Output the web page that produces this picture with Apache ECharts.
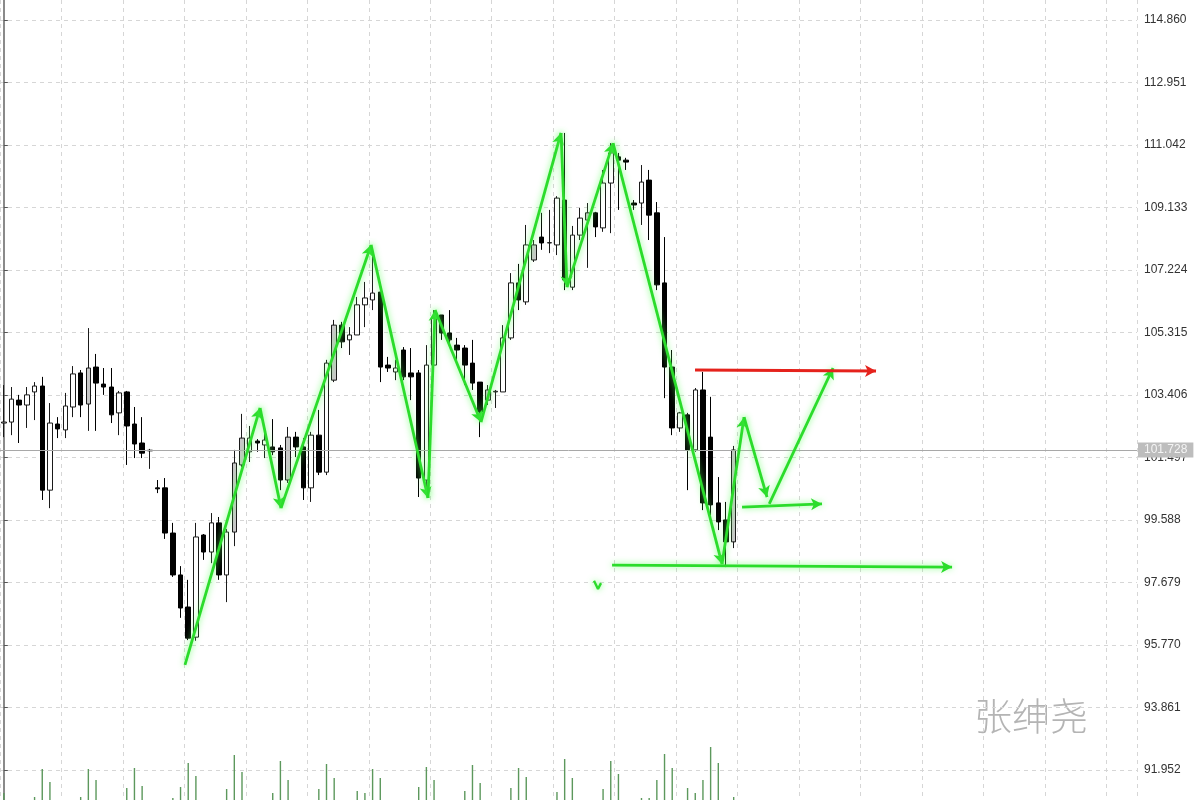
<!DOCTYPE html>
<html><head><meta charset="utf-8">
<script src="https://cdn.jsdelivr.net/npm/echarts@6/dist/echarts.min.js"></script>
<style>html,body{margin:0;padding:0;background:#fff}#c{width:1200px;height:800px}</style>
</head><body><div id="c"></div>
<script>
// price tick labels on the right axis
const priceTicks = [91.952, 93.861, 95.770, 97.679, 99.588, 101.497, 103.406, 105.315, 107.224, 109.133, 111.042, 112.951, 114.860];
const currentPrice = 101.728;
// candles: [open, close, low, high]
const ohlc = [
[102.55,102.58,102.12,103.71],[102.58,103.28,102.18,103.65],[103.25,103.10,101.94,103.41],[103.10,103.41,102.40,103.65],
[103.50,103.68,102.64,103.80],[103.68,100.50,100.20,103.96],[100.50,102.55,99.95,103.16],[102.52,102.37,102.09,102.73],
[102.34,103.07,102.09,103.47],[103.04,104.05,102.73,104.29],[104.08,103.10,102.73,104.17],[103.13,104.23,102.31,105.45],
[104.26,103.77,102.31,104.66],[103.74,103.65,103.41,104.23],[103.65,102.80,102.55,104.23],[102.86,103.47,102.18,103.53],
[103.50,102.46,101.27,103.53],[102.52,101.91,101.48,103.04],[101.94,101.63,101.48,102.73],[101.70,101.72,101.15,101.76],
[100.57,100.54,100.41,100.81],[100.57,99.19,99.01,100.87],[99.19,97.91,97.85,99.50],[97.91,96.90,96.60,98.18],
[96.93,95.98,95.92,97.76],[96.01,99.07,95.90,99.50],[99.13,98.61,98.37,99.16],[98.61,99.50,98.27,99.80],
[99.50,97.91,97.76,99.68],[97.91,99.22,97.08,99.31],[99.22,101.33,98.79,101.73],[101.27,102.09,101.21,102.83],
[101.67,102.09,101.36,102.46],[102.00,101.94,101.67,102.06],[101.88,102.03,101.48,102.34],[101.82,101.67,101.57,102.67],
[101.79,100.81,100.50,101.88],[100.81,102.12,100.72,102.43],[102.12,101.82,101.51,102.28],[101.82,100.57,100.20,102.09],
[100.57,102.18,100.14,102.28],[102.18,101.05,100.96,102.95],[101.05,104.38,100.96,104.48],[103.86,105.54,103.80,105.70],
[105.54,105.03,104.84,105.64],[105.09,105.24,104.63,105.48],[105.24,106.16,105.24,106.40],[106.16,106.37,105.48,106.86],
[106.31,106.52,106.00,107.90],[106.55,104.26,103.80,106.55],[104.32,104.23,104.11,104.57],[104.11,104.23,103.86,104.48],
[104.78,103.96,103.86,104.87],[104.08,103.96,103.25,104.84],[104.08,100.87,100.29,104.17],[100.81,104.32,100.35,104.93],
[104.32,105.76,104.17,106.00],[105.85,105.30,105.09,105.85],[105.30,105.09,104.93,106.00],[104.93,104.78,104.48,105.15],
[104.84,104.32,103.71,104.93],[104.38,103.77,103.56,105.09],[103.80,102.89,102.12,103.80],[103.25,103.56,103.10,103.71],
[103.50,103.52,103.01,103.56],[103.50,105.15,103.50,105.54],[105.15,106.83,105.09,107.13],[106.83,106.31,106.00,107.41],
[106.25,107.99,106.16,108.60],[107.53,107.99,107.47,108.14],[108.23,108.05,107.84,108.97],[108.05,108.06,107.74,109.06],
[107.99,109.42,107.68,109.48],[109.36,106.92,106.61,111.41],[106.70,108.29,106.61,108.57],[108.29,108.81,108.14,109.12],
[108.75,108.97,107.29,109.27],[108.97,108.54,108.23,109.00],[108.51,109.88,108.39,110.28],[109.88,110.80,108.35,111.10],
[110.68,110.58,109.06,110.80],[110.58,110.52,110.28,110.65],[109.27,109.21,109.06,109.36],[109.27,109.91,108.60,110.43],
[109.97,108.90,108.14,110.28],[108.97,106.77,106.61,109.30],[106.83,104.26,103.31,108.23],[104.26,102.40,102.18,104.78],
[102.40,102.86,102.28,102.89],[102.80,101.73,100.50,102.86],[101.73,103.56,101.67,103.62],[103.56,100.11,99.89,104.11],
[102.12,100.05,99.74,103.35],[100.11,99.53,99.28,100.90],[99.59,98.92,98.15,100.14],[98.92,101.728,98.73,101.85]
];
// candles drawn with a grey body
const greyCandles = [11, 30, 31, 37, 43, 63, 69, 76, 95];
// tick volume per candle
const volume = [
70,0,0,0,30,310,180,0,0,0,30,310,200,0,0,0,120,320,140,0,
0,0,20,130,370,240,0,0,0,110,450,280,0,0,0,70,390,200,0,0,
0,110,360,220,0,0,90,70,310,220,0,0,0,0,130,330,200,0,0,0,
90,350,170,0,0,0,120,320,230,0,0,0,80,410,220,0,0,0,110,390,
260,0,0,20,20,200,460,320,0,120,70,200,530,370,0,30
];
// hand-drawn annotations, points as [bar index, price]
const zigzag = [[23.58,95.16],[33.35,103.01],[36.08,99.95],[47.80,107.99],[55.21,100.26],[56.13,106.00],[62.11,102.58],[72.53,111.41],[73.31,106.70],[79.30,111.10],[93.49,98.24],[96.35,102.73],[99.34,100.29]];
const pullbackLine = [[96.09,99.98],[106.5,100.08]];
const targetLine = [[99.63,100.08],[107.93,104.23]];
const resistanceLine = [[89.97,104.17],[113.53,104.14]];
const supportLine = [[79.17,98.21],[123.43,98.15]];
const tickMark = [[76.82,97.73],[77.34,97.48],[77.73,97.66]];

const totalBars = 148;
const categories = Array.from({length: totalBars}, (_, i) => 'B' + (i + 1));

const chart = echarts.init(document.getElementById('c'));
const green = '#2bdc2b';
const glow = {shadowColor: 'rgba(90,255,90,0.8)', shadowBlur: 6};

function segs(points, arrowEveryVertex) {
  const out = [];
  for (let i = 0; i < points.length - 1; i++) {
    out.push([{coord: points[i], symbol: 'none'},
              {coord: points[i + 1], symbol: (arrowEveryVertex || i === points.length - 2) ? 'arrow' : 'none'}]);
  }
  return out;
}
function annot(name, points, color, arrows) {
  return {
    name, type: 'line', xAxisIndex: 1, yAxisIndex: 0, data: [], silent: true,
    markLine: {
      silent: true, animation: false, symbolSize: [9, 11],
      label: {show: false},
      lineStyle: Object.assign({color, width: 2.8, type: 'solid'}, color === green ? glow : {}),
      data: segs(points, arrows)
    }
  };
}

const candleData = ohlc.map((v, i) => greyCandles.includes(i)
  ? {value: v, itemStyle: {color: '#c8c8c8', color0: '#c8c8c8'}} : v);

chart.setOption({
  animation: false,
  backgroundColor: '#ffffff',
  grid: [
    {left: 0, right: 63, top: 0, bottom: 0},
    {left: 0, right: 63, bottom: 0, height: 100}
  ],
  xAxis: [
    {type: 'category', data: categories, gridIndex: 0, boundaryGap: true,
     axisLine: {show: false}, axisTick: {show: false}, axisLabel: {show: false},
     splitLine: {show: true, interval: 7, lineStyle: {color: '#d6d6d6', type: [4, 4], width: 1}}},
    {type: 'value', gridIndex: 0, min: -0.5, max: totalBars - 0.5, show: false},
    {type: 'category', data: categories, gridIndex: 1, show: false}
  ],
  yAxis: [
    {type: 'value', gridIndex: 0, position: 'right', min: 91.036, max: 115.471, scale: true,
     axisLine: {show: true, lineStyle: {color: '#8a8a8a', width: 2}},
     axisTick: {show: true, length: 4, customValues: priceTicks, lineStyle: {color: '#555'}},
     axisLabel: {customValues: priceTicks, formatter: v => v.toFixed(3), color: '#333',
                 fontFamily: 'Liberation Sans', fontSize: 12, margin: 7},
     splitLine: {show: true, lineStyle: {color: '#d6d6d6', type: [4, 4], width: 1}}},
    {type: 'value', gridIndex: 1, min: 0, max: 1000, show: false}
  ],
  series: [
    {type: 'bar', xAxisIndex: 2, yAxisIndex: 1, data: volume, barWidth: 1.4,
     itemStyle: {color: '#5c985c'}, silent: true},
    {type: 'candlestick', xAxisIndex: 0, yAxisIndex: 0, data: candleData, barWidth: 5,
     itemStyle: {color: '#ffffff', color0: '#000000', borderColor: '#1a1a1a', borderColor0: '#000000', borderWidth: 1},
     markLine: {
       silent: true, animation: false, symbol: 'none',
       lineStyle: {color: '#a8a8a8', width: 1, type: 'solid'},
       label: {show: true, position: 'end', formatter: currentPrice.toFixed(3), distance: 1,
               backgroundColor: '#bdbdbd', color: '#f4f4f4', padding: [2, 6, 1, 6],
               fontFamily: 'Liberation Sans', fontSize: 12},
       data: [{yAxis: currentPrice}]
     }},
    annot('zigzag', zigzag, green, true),
    annot('pullback', pullbackLine, green, false),
    annot('target', targetLine, green, false),
    annot('support', supportLine, green, false),
    annot('resistance', resistanceLine, '#e5221c', false),
    {type: 'line', xAxisIndex: 1, yAxisIndex: 0, data: tickMark, symbol: 'none', silent: true,
     lineStyle: Object.assign({color: green, width: 2.4}, glow)}
  ],
  graphic: [
    {type: 'text', left: 974, top: 697, silent: true,
     style: {text: '张绅尧', font: '300 38px "Noto Sans CJK SC"', fill: '#b4b4b4'}}
  ]
});
</script></body></html>
